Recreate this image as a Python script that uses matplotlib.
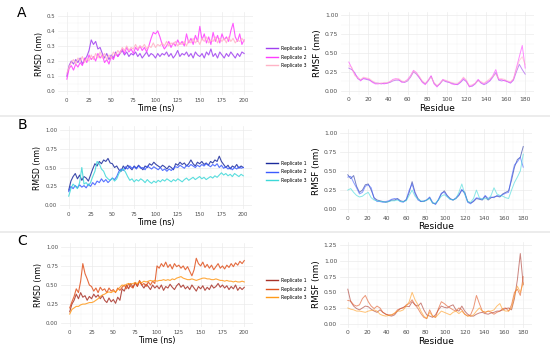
import numpy as np
import matplotlib
matplotlib.use("Agg")
import matplotlib.pyplot as plt
from matplotlib.lines import Line2D

# --- DATA ---------------------------------------------------------------
time_ns = np.arange(0, 200.1, 2.5)        # 81 frames
residues = np.arange(0, 181, 3)           # 61 residues sampled
labels = ["Replicate 1", "Replicate 2", "Replicate 3"]

# RMSD panel A
rmsd_a1 = [0.10, 0.17, 0.20, 0.18, 0.21, 0.19, 0.22, 0.18, 0.21, 0.23,
           0.27, 0.34, 0.31, 0.33, 0.28, 0.29, 0.25, 0.22, 0.25, 0.21,
           0.24, 0.22, 0.26, 0.23, 0.25, 0.27, 0.24, 0.26, 0.23, 0.25,
           0.24, 0.26, 0.23, 0.25, 0.22, 0.24, 0.26, 0.23, 0.25, 0.24,
           0.22, 0.25, 0.23, 0.25, 0.24, 0.26, 0.23, 0.25, 0.22, 0.24,
           0.27, 0.23, 0.25, 0.24, 0.26, 0.23, 0.25, 0.22, 0.26, 0.24,
           0.23, 0.25, 0.22, 0.26, 0.24, 0.28, 0.23, 0.25, 0.22, 0.26,
           0.24, 0.22, 0.25, 0.23, 0.26, 0.24, 0.22, 0.25, 0.23, 0.26,
           0.25]
rmsd_a2 = [0.08, 0.15, 0.17, 0.14, 0.18, 0.16, 0.19, 0.17, 0.22, 0.19,
           0.24, 0.21, 0.23, 0.20, 0.25, 0.22, 0.24, 0.19, 0.21, 0.18,
           0.23, 0.21, 0.25, 0.23, 0.26, 0.28, 0.25, 0.29, 0.26, 0.28,
           0.25, 0.29, 0.27, 0.30, 0.27, 0.29, 0.26, 0.30, 0.35, 0.39,
           0.38, 0.40, 0.36, 0.31, 0.28, 0.30, 0.33, 0.29, 0.32, 0.30,
           0.34, 0.31, 0.33, 0.30, 0.38, 0.32, 0.35, 0.31, 0.37, 0.33,
           0.43, 0.34, 0.38, 0.32, 0.36, 0.31, 0.39, 0.33, 0.37, 0.32,
           0.38, 0.34, 0.36, 0.33, 0.40, 0.45, 0.36, 0.33, 0.38, 0.31,
           0.34]
rmsd_a3 = [0.12, 0.16, 0.19, 0.21, 0.18, 0.22, 0.20, 0.23, 0.19, 0.22,
           0.20, 0.24, 0.21, 0.25, 0.22, 0.26, 0.22, 0.25, 0.21, 0.24,
           0.22, 0.26, 0.24, 0.27, 0.25, 0.29, 0.27, 0.30, 0.27, 0.29,
           0.28, 0.31, 0.28, 0.30, 0.29, 0.31, 0.28, 0.30, 0.29, 0.32,
           0.29, 0.31, 0.30, 0.32, 0.30, 0.33, 0.30, 0.32, 0.31, 0.33,
           0.30, 0.32, 0.31, 0.33, 0.30, 0.34, 0.32, 0.35, 0.32, 0.34,
           0.31, 0.35, 0.33, 0.36, 0.32, 0.34, 0.33, 0.36, 0.32, 0.35,
           0.33, 0.35, 0.32, 0.36, 0.33, 0.35, 0.32, 0.34, 0.33, 0.35,
           0.33]

# RMSD panel B
rmsd_b1 = [0.20, 0.32, 0.38, 0.42, 0.35, 0.40, 0.33, 0.38, 0.36, 0.32,
           0.40, 0.48, 0.55, 0.52, 0.58, 0.55, 0.60, 0.58, 0.62, 0.56,
           0.55, 0.50, 0.52, 0.47, 0.45, 0.52, 0.48, 0.53, 0.50, 0.47,
           0.52, 0.49, 0.53, 0.50, 0.47, 0.52, 0.50, 0.55, 0.53, 0.57,
           0.54, 0.52, 0.50, 0.53, 0.51, 0.48, 0.52, 0.50, 0.47, 0.55,
           0.53, 0.57, 0.54, 0.56, 0.52, 0.55, 0.60, 0.55, 0.52, 0.57,
           0.55, 0.58, 0.54, 0.56, 0.53, 0.58, 0.56, 0.60, 0.58, 0.65,
           0.58, 0.54, 0.50, 0.53, 0.48, 0.52, 0.50, 0.54, 0.49, 0.52,
           0.50]
rmsd_b2 = [0.18, 0.25, 0.22, 0.26, 0.23, 0.27, 0.24, 0.26, 0.23, 0.28,
           0.25, 0.30, 0.27, 0.32, 0.30, 0.35, 0.31, 0.34, 0.30, 0.33,
           0.36, 0.34, 0.38, 0.45, 0.48, 0.46, 0.51, 0.48, 0.52, 0.49,
           0.51, 0.48, 0.52, 0.49, 0.50, 0.47, 0.52, 0.50, 0.48, 0.51,
           0.49, 0.47, 0.50, 0.46, 0.48, 0.45, 0.48, 0.46, 0.49, 0.51,
           0.50, 0.53, 0.51, 0.49, 0.53, 0.51, 0.54, 0.52, 0.50, 0.53,
           0.51, 0.54, 0.52, 0.55, 0.53, 0.51, 0.54, 0.52, 0.55, 0.50,
           0.53, 0.49, 0.51, 0.48, 0.50, 0.47, 0.50, 0.48, 0.51, 0.49,
           0.50]
rmsd_b3 = [0.12, 0.22, 0.28, 0.25, 0.22, 0.30, 0.50, 0.28, 0.30, 0.26,
           0.30, 0.38, 0.45, 0.58, 0.55, 0.48, 0.45, 0.38, 0.35, 0.33,
           0.36, 0.32, 0.35, 0.42, 0.46, 0.48, 0.44, 0.38, 0.33, 0.35,
           0.31, 0.34, 0.32, 0.35, 0.33, 0.30, 0.34, 0.31, 0.29, 0.32,
           0.30, 0.33, 0.31, 0.34, 0.32, 0.35, 0.33, 0.31, 0.34, 0.32,
           0.35, 0.33, 0.31, 0.34, 0.36, 0.33, 0.35, 0.37, 0.34, 0.36,
           0.38, 0.35, 0.37, 0.34, 0.36, 0.38, 0.36, 0.39, 0.37, 0.40,
           0.43, 0.40, 0.42, 0.39, 0.41, 0.38, 0.42, 0.40, 0.38, 0.41,
           0.39]

# RMSD panel C
rmsd_c1 = [0.15, 0.25, 0.30, 0.38, 0.32, 0.40, 0.34, 0.36, 0.30, 0.35,
           0.32, 0.38, 0.34, 0.37, 0.32, 0.36, 0.30, 0.27, 0.33, 0.28,
           0.31, 0.26, 0.34, 0.30, 0.45, 0.42, 0.50, 0.45, 0.52, 0.47,
           0.53, 0.48, 0.55, 0.50, 0.46, 0.51, 0.48, 0.44, 0.50, 0.46,
           0.49, 0.45, 0.50, 0.43, 0.48, 0.46, 0.51, 0.47, 0.44, 0.49,
           0.52, 0.47, 0.50, 0.45, 0.48, 0.44, 0.50, 0.46, 0.42, 0.48,
           0.45, 0.49, 0.43, 0.47, 0.44, 0.50, 0.46, 0.48, 0.52, 0.47,
           0.50, 0.46, 0.49, 0.44, 0.48, 0.45, 0.50, 0.43, 0.47, 0.44,
           0.47]
rmsd_c2 = [0.20, 0.28, 0.35, 0.45, 0.40, 0.55, 0.78, 0.65, 0.58, 0.50,
           0.48, 0.42, 0.46, 0.40, 0.47, 0.43, 0.45, 0.40, 0.46, 0.42,
           0.44, 0.40, 0.46, 0.43, 0.47, 0.50, 0.45, 0.52, 0.48, 0.46,
           0.53, 0.49, 0.56, 0.50, 0.52, 0.48, 0.54, 0.50, 0.55, 0.52,
           0.75, 0.72, 0.78, 0.74, 0.80, 0.73, 0.77, 0.71, 0.78, 0.74,
           0.76, 0.72, 0.75, 0.70, 0.74, 0.68, 0.62, 0.70, 0.85, 0.78,
           0.75, 0.80, 0.73, 0.77, 0.72, 0.76, 0.70, 0.74, 0.78, 0.72,
           0.75, 0.71, 0.76, 0.73, 0.78, 0.74, 0.79, 0.76, 0.81, 0.78,
           0.82]
rmsd_c3 = [0.12, 0.18, 0.20, 0.22, 0.22, 0.24, 0.25, 0.25, 0.26, 0.27,
           0.27, 0.28, 0.30, 0.32, 0.35, 0.37, 0.38, 0.40, 0.41, 0.40,
           0.42, 0.41, 0.44, 0.47, 0.50, 0.49, 0.51, 0.52, 0.51, 0.52,
           0.53, 0.52, 0.54, 0.53, 0.55, 0.54, 0.55, 0.56, 0.55, 0.56,
           0.55, 0.56, 0.56, 0.57, 0.56, 0.57, 0.56, 0.58, 0.57, 0.59,
           0.60, 0.61, 0.59, 0.58, 0.57, 0.57, 0.58, 0.57, 0.56, 0.57,
           0.58, 0.59, 0.59, 0.58, 0.58, 0.57, 0.57, 0.58, 0.57, 0.56,
           0.56, 0.55, 0.56, 0.55, 0.55, 0.54, 0.55, 0.54, 0.54, 0.55,
           0.54]

# RMSF panel A
rmsf_a1 = [0.30, 0.28, 0.24, 0.16, 0.14, 0.16, 0.15, 0.14, 0.12, 0.10,
           0.10, 0.09, 0.10, 0.10, 0.11, 0.13, 0.14, 0.14, 0.12, 0.11,
           0.13, 0.18, 0.25, 0.22, 0.17, 0.12, 0.09, 0.13, 0.19, 0.10,
           0.06, 0.09, 0.14, 0.12, 0.11, 0.10, 0.09, 0.08, 0.11, 0.15,
           0.12, 0.06, 0.06, 0.09, 0.14, 0.10, 0.08, 0.10, 0.13, 0.18,
           0.24, 0.14, 0.13, 0.14, 0.12, 0.10, 0.14, 0.25, 0.35, 0.28,
           0.22]
rmsf_a2 = [0.38, 0.30, 0.22, 0.18, 0.13, 0.17, 0.16, 0.15, 0.11, 0.09,
           0.09, 0.10, 0.09, 0.10, 0.12, 0.15, 0.16, 0.15, 0.11, 0.12,
           0.15, 0.20, 0.27, 0.24, 0.18, 0.11, 0.08, 0.14, 0.20, 0.09,
           0.05, 0.10, 0.15, 0.13, 0.12, 0.09, 0.08, 0.09, 0.12, 0.17,
           0.13, 0.05, 0.07, 0.10, 0.15, 0.11, 0.09, 0.12, 0.14, 0.20,
           0.28, 0.15, 0.15, 0.13, 0.12, 0.11, 0.15, 0.30, 0.45, 0.60,
           0.30]
rmsf_a3 = [0.33, 0.31, 0.20, 0.17, 0.15, 0.18, 0.17, 0.16, 0.13, 0.11,
           0.10, 0.10, 0.11, 0.11, 0.12, 0.14, 0.15, 0.16, 0.13, 0.12,
           0.14, 0.19, 0.26, 0.23, 0.19, 0.13, 0.10, 0.14, 0.18, 0.11,
           0.07, 0.10, 0.14, 0.14, 0.12, 0.11, 0.10, 0.10, 0.13, 0.18,
           0.14, 0.07, 0.08, 0.10, 0.13, 0.12, 0.10, 0.13, 0.16, 0.19,
           0.22, 0.16, 0.16, 0.15, 0.13, 0.12, 0.16, 0.28, 0.40, 0.45,
           0.35]

# RMSF panel B
rmsf_b1 = [0.45, 0.40, 0.44, 0.30, 0.22, 0.25, 0.32, 0.33, 0.25, 0.15,
           0.12, 0.11, 0.10, 0.09, 0.10, 0.12, 0.12, 0.14, 0.11, 0.10,
           0.12, 0.22, 0.36, 0.22, 0.14, 0.10, 0.10, 0.12, 0.15, 0.08,
           0.07, 0.12, 0.20, 0.24, 0.18, 0.14, 0.12, 0.14, 0.18, 0.25,
           0.22, 0.10, 0.08, 0.10, 0.14, 0.13, 0.12, 0.17, 0.12, 0.15,
           0.16, 0.17, 0.16, 0.20, 0.22, 0.24, 0.38, 0.55, 0.65, 0.68,
           0.82]
rmsf_b2 = [0.42, 0.43, 0.35, 0.28, 0.20, 0.22, 0.30, 0.32, 0.28, 0.14,
           0.10, 0.10, 0.09, 0.10, 0.11, 0.13, 0.14, 0.13, 0.10, 0.09,
           0.13, 0.25, 0.33, 0.20, 0.12, 0.10, 0.11, 0.12, 0.16, 0.09,
           0.06, 0.13, 0.21, 0.22, 0.17, 0.13, 0.12, 0.15, 0.19, 0.26,
           0.20, 0.09, 0.07, 0.11, 0.15, 0.14, 0.13, 0.18, 0.14, 0.16,
           0.15, 0.18, 0.17, 0.19, 0.21, 0.22, 0.42, 0.58, 0.62, 0.68,
           0.55]
rmsf_b3 = [0.25, 0.27, 0.22, 0.18, 0.16, 0.17, 0.20, 0.22, 0.15, 0.12,
           0.11, 0.10, 0.10, 0.09, 0.10, 0.11, 0.11, 0.12, 0.10, 0.10,
           0.11, 0.18, 0.25, 0.17, 0.13, 0.11, 0.10, 0.12, 0.14, 0.08,
           0.08, 0.12, 0.17, 0.19, 0.16, 0.13, 0.12, 0.14, 0.22, 0.33,
           0.20, 0.10, 0.09, 0.14, 0.25, 0.15, 0.13, 0.14, 0.13, 0.18,
           0.28, 0.20, 0.18, 0.17, 0.15, 0.14, 0.25, 0.35, 0.42, 0.50,
           0.72]

# RMSF panel C
rmsf_c1 = [0.55, 0.35, 0.28, 0.24, 0.22, 0.25, 0.28, 0.27, 0.23, 0.20,
           0.18, 0.22, 0.18, 0.15, 0.13, 0.12, 0.14, 0.20, 0.24, 0.26,
           0.28, 0.27, 0.35, 0.30, 0.28, 0.33, 0.22, 0.14, 0.12, 0.10,
           0.14, 0.22, 0.28, 0.26, 0.25, 0.28, 0.30, 0.22, 0.20, 0.28,
           0.20, 0.15, 0.12, 0.12, 0.15, 0.17, 0.18, 0.16, 0.15, 0.17,
           0.18, 0.20, 0.20, 0.22, 0.24, 0.25, 0.22, 0.40, 0.70, 1.12,
           0.62]
rmsf_c2 = [0.37, 0.36, 0.30, 0.28, 0.30, 0.40, 0.45, 0.35, 0.28, 0.24,
           0.28, 0.25, 0.18, 0.15, 0.14, 0.14, 0.16, 0.22, 0.24, 0.25,
           0.30, 0.32, 0.38, 0.30, 0.24, 0.16, 0.10, 0.08, 0.22, 0.12,
           0.10, 0.24, 0.35, 0.32, 0.28, 0.25, 0.22, 0.20, 0.25, 0.22,
           0.15, 0.12, 0.14, 0.25, 0.45, 0.32, 0.20, 0.18, 0.20, 0.18,
           0.15, 0.18, 0.20, 0.24, 0.25, 0.20, 0.30, 0.50, 0.55, 0.45,
           0.75]
rmsf_c3 = [0.25, 0.23, 0.22, 0.20, 0.20, 0.19, 0.18, 0.20, 0.21, 0.22,
           0.20, 0.15, 0.13, 0.12, 0.13, 0.14, 0.17, 0.20, 0.20, 0.22,
           0.28, 0.35, 0.50, 0.38, 0.30, 0.20, 0.12, 0.08, 0.18, 0.12,
           0.10, 0.15, 0.20, 0.18, 0.16, 0.14, 0.18, 0.20, 0.16, 0.20,
           0.15, 0.12, 0.12, 0.14, 0.20, 0.25, 0.20, 0.18, 0.20, 0.20,
           0.22, 0.28, 0.32, 0.22, 0.20, 0.20, 0.25, 0.45, 0.60, 0.50,
           0.65]

colors_a = ["#a040f0", "#ff3cff", "#ffb3c6"]
colors_b = ["#1a2a9c", "#3b5bff", "#3dd8d8"]
colors_c = ["#a83228", "#e0521e", "#ff9a1a"]

# --- FIGURE ---------------------------------------------------------------
W, H = 550, 349
fig = plt.figure(figsize=(W / 100, H / 100), dpi=100)
fig.patch.set_facecolor("white")


def px_axes(left, top, right, bottom):
    return fig.add_axes([left / W, 1 - bottom / H, (right - left) / W, (bottom - top) / H])


def style(ax, tick_fs):
    for s in ax.spines.values():
        s.set_visible(False)
    ax.tick_params(length=0, labelsize=tick_fs, labelcolor="#4d4d4d", pad=2)
    ax.grid(which="major", color="#ebebeb", lw=0.5)
    ax.grid(which="minor", color="#f3f3f3", lw=0.35)
    ax.set_axisbelow(True)


def draw_rmsd(box, series, colors, ymax, yticks, legend_y):
    ax = px_axes(*box)
    for vals, c, lab in zip(series, colors, labels):
        ax.plot(time_ns, vals, color=c, lw=0.8, alpha=0.85, label=lab)
    ax.set_xlim(-10, 210)
    ax.set_ylim(-0.05 * ymax, 1.05 * ymax)
    ax.set_xticks(np.arange(0, 201, 25))
    ax.set_xticks(np.arange(12.5, 200, 25), minor=True)
    ax.set_yticks(yticks)
    ax.set_yticks((np.array(yticks[:-1]) + np.array(yticks[1:])) / 2, minor=True)
    ax.yaxis.set_major_formatter(plt.FormatStrFormatter("%.1f" if ymax < 0.9 else "%.2f"))
    ax.tick_params(which="minor", length=0)
    style(ax, 3.9)
    ax.set_xlabel("Time (ns)", fontsize=5.8, labelpad=1)
    ax.set_ylabel("RMSD (nm)", fontsize=5.6, labelpad=2)
    handles = [Line2D([0], [0], color=c, lw=1.0) for c in colors]
    fig.legend(handles, labels, loc="center left", frameon=False,
               bbox_to_anchor=(262 / W, 1 - legend_y / H), fontsize=3.3,
               handlelength=2.6, labelspacing=0.75, handletextpad=0.6)
    return ax


def draw_rmsf(box, series, colors, ymax, yticks):
    ax = px_axes(*box)
    for vals, c in zip(series, colors):
        ax.plot(residues, vals, color=c, lw=0.7, alpha=0.6)
    ax.set_xlim(-8, 189)
    ax.set_ylim(-0.05 * ymax, 1.05 * ymax)
    ax.set_xticks(np.arange(0, 181, 20))
    ax.set_xticks(np.arange(10, 181, 20), minor=True)
    ax.set_yticks(yticks)
    ax.set_yticks((np.array(yticks[:-1]) + np.array(yticks[1:])) / 2, minor=True)
    ax.yaxis.set_major_formatter(plt.FormatStrFormatter("%.2f"))
    ax.tick_params(which="minor", length=0)
    style(ax, 4.3)
    ax.set_xlabel("Residue", fontsize=6.5, labelpad=1)
    ax.set_ylabel("RMSF (nm)", fontsize=6.3, labelpad=2)
    return ax


yt_a = [0.0, 0.1, 0.2, 0.3, 0.4, 0.5]
yt_1 = [0.0, 0.25, 0.5, 0.75, 1.0]
yt_125 = [0.0, 0.25, 0.5, 0.75, 1.0, 1.25]

draw_rmsd((58, 12, 253, 95), [rmsd_a1, rmsd_a2, rmsd_a3], colors_a, 0.5, yt_a, 57)
draw_rmsd((60, 126, 252, 209), [rmsd_b1, rmsd_b2, rmsd_b3], colors_b, 1.0, yt_1, 172)
draw_rmsd((61, 243, 253, 327), [rmsd_c1, rmsd_c2, rmsd_c3], colors_c, 1.0, yt_1, 289)

draw_rmsf((341, 11.5, 534, 94.5), [rmsf_a1, rmsf_a2, rmsf_a3], colors_a, 1.0, yt_1)
draw_rmsf((340, 129, 532, 213), [rmsf_b1, rmsf_b2, rmsf_b3], colors_b, 1.0, yt_1)
draw_rmsf((340, 241.5, 532, 327.5), [rmsf_c1, rmsf_c2, rmsf_c3], colors_c, 1.25, yt_125)

# panel letters
for letter, y in [("A", 13), ("B", 125), ("C", 241)]:
    fig.text(22 / W, 1 - y / H, letter, fontsize=10, ha="center", va="center")

# thin grey separators between the three rows
for y in (115, 231):
    fig.add_artist(plt.Rectangle((0, 1 - (y + 2) / H), 1, 2 / H,
                                 transform=fig.transFigure, color="#ececec", lw=0))

fig.savefig("out.png", dpi=100)
